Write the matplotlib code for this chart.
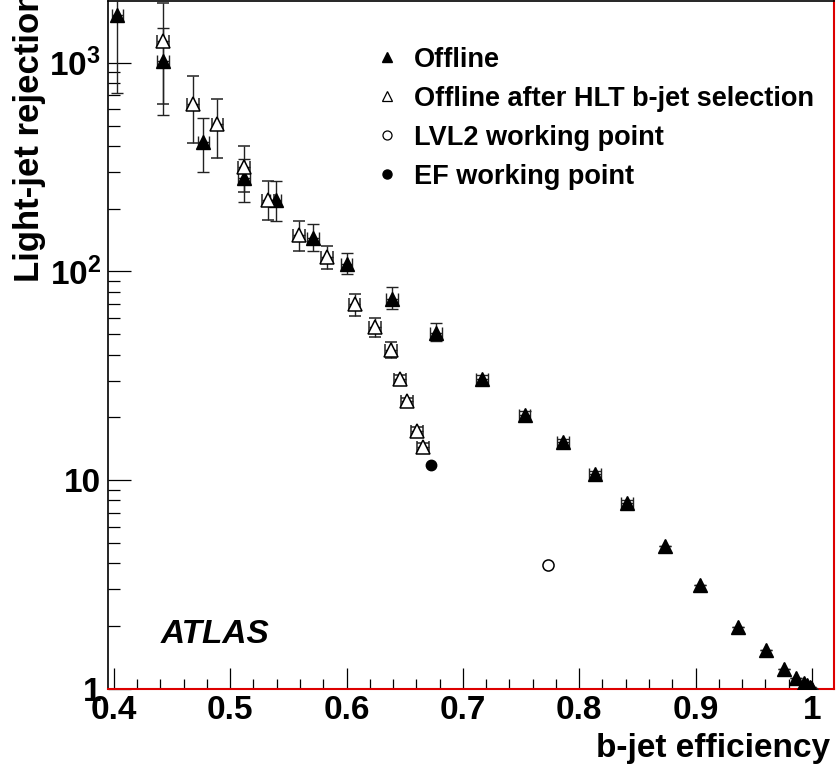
import matplotlib
matplotlib.use("Agg")
import matplotlib.pyplot as plt
from matplotlib.lines import Line2D
from matplotlib.ticker import FixedLocator, FixedFormatter, MultipleLocator, NullFormatter

plt.rcParams['font.family'] = ['Liberation Sans', 'DejaVu Sans']
plt.rcParams['font.weight'] = 'bold'
plt.rcParams['mathtext.fontset'] = 'custom'
plt.rcParams['mathtext.rm'] = 'Liberation Sans:bold'
plt.rcParams['mathtext.bf'] = 'Liberation Sans:bold'

# Offline (filled triangles)
offline_x = [0.403, 0.442, 0.477, 0.512, 0.539, 0.571, 0.600, 0.639, 0.677, 0.7165,
             0.753, 0.786, 0.8136, 0.841, 0.874, 0.904, 0.9365, 0.9606, 0.976, 0.9864,
             0.993, 0.996, 0.998, 0.999, 1.0]
offline_y = [1700, 1020, 419, 279, 221, 145, 109, 74, 51, 30.4,
             20.5, 15.2, 10.7, 7.76, 4.83, 3.15, 1.98, 1.54, 1.25, 1.13,
             1.07, 1.04, 1.02, 1.01, 1.0]
offline_ydn = [982, 456, 118, 63, 46, 20, 12, 8, 4.8, 1.5,
               1.0, 0.6, 0.4, 0.25, 0, 0, 0, 0, 0, 0,
               0, 0, 0, 0, 0]
offline_yup = [2300, 450, 126, 68, 49, 23, 14, 10, 5.4, 1.5,
               1.0, 0.6, 0.4, 0.25, 0, 0, 0, 0, 0, 0,
               0, 0, 0, 0, 0]
offline_xerr = [0.005] * 14 + [0] * 11

# Offline after HLT b-jet selection (open triangles)
hlt_x = [0.442, 0.468, 0.489, 0.512, 0.5325, 0.559, 0.583, 0.607, 0.6245, 0.638,
         0.646, 0.652, 0.6605, 0.6657]
hlt_y = [1274, 636, 511, 318, 221, 150, 117, 70, 54, 41.9,
         30.4, 23.9, 17.3, 14.5]
hlt_ydn = [637, 222, 160, 79, 44, 24, 14, 8.5, 5.7, 3.5, 1.5, 1.0, 0.7, 0.5]
hlt_yup = [666, 230, 162, 83, 49, 25, 15, 7.6, 5.6, 3.8, 1.5, 1.0, 0.7, 0.5]
hlt_xerr = [0.005] * 14

# working points
lvl2_x = [0.773]
lvl2_y = [3.92]
ef_x = [0.6726]
ef_y = [11.8]

legend_labels = ["Offline", "Offline after HLT b-jet selection",
                 "LVL2 working point", "EF working point"]

fig = plt.figure(figsize=(8.36, 7.73), dpi=100)
ax = fig.add_axes([0.1292, 0.1087, 0.8684, 0.8903])

ax.errorbar(offline_x, offline_y, yerr=[offline_ydn, offline_yup], xerr=offline_xerr,
            fmt='^', color='black', ecolor='#222222', elinewidth=1, capsize=4,
            capthick=1, markersize=9.5, zorder=3)
ax.errorbar(hlt_x, hlt_y, yerr=[hlt_ydn, hlt_yup], xerr=hlt_xerr,
            fmt='^', color='black', mfc='white', mec='black', mew=1.1,
            ecolor='#222222', elinewidth=1, capsize=4, capthick=1,
            markersize=9.5, zorder=3)
ax.plot(lvl2_x, lvl2_y, 'o', mfc='white', mec='black', mew=1.1, markersize=8, zorder=4)
ax.plot(ef_x, ef_y, 'o', color='black', markersize=7.5, zorder=4)

ax.set_yscale('log')
ax.set_xlim(0.395, 1.019)
ax.set_ylim(1, 1980)

# ticks, ROOT style
ax.xaxis.set_major_locator(FixedLocator([0.4, 0.5, 0.6, 0.7, 0.8, 0.9, 1.0]))
ax.xaxis.set_major_formatter(FixedFormatter(["0.4", "0.5", "0.6", "0.7", "0.8", "0.9", "1"]))
ax.xaxis.set_minor_locator(MultipleLocator(0.02))
ax.yaxis.set_major_locator(FixedLocator([1, 10, 100, 1000]))
ax.yaxis.set_major_formatter(FixedFormatter(["1", "10", r"$\mathbf{10^{2}}$", r"$\mathbf{10^{3}}$"]))
minors = [m * 10 ** d for d in range(0, 4) for m in range(2, 10)]
ax.yaxis.set_minor_locator(FixedLocator(minors))
ax.yaxis.set_minor_formatter(NullFormatter())

ax.tick_params(axis='x', which='major', direction='in', length=15, width=0.9,
               labelsize=24, pad=4, top=False)
ax.tick_params(axis='x', which='minor', direction='in', length=7.5, width=0.9, top=False)
ax.tick_params(axis='y', which='major', direction='in', length=16.5, width=0.9,
               labelsize=24, pad=5, right=False)
ax.tick_params(axis='y', which='minor', direction='in', length=8.5, width=0.9, right=False)

for side in ['left', 'top']:
    ax.spines[side].set_color('black')
    ax.spines[side].set_linewidth(1.2)
for side in ['right', 'bottom']:
    ax.spines[side].set_color('#dd0000')
    ax.spines[side].set_linewidth(1.5)

ax.set_xlabel("b-jet efficiency", fontsize=24, fontweight='bold', loc='right')
ax.xaxis.set_label_coords(0.995, -0.064)
ax.set_ylabel("Light-jet rejection", fontsize=25, fontweight='bold', loc='top')
ax.yaxis.set_label_coords(-0.085, 1.015)

ax.text(0.072, 0.079, "ATLAS", transform=ax.transAxes, fontsize=24,
        fontweight='bold', style='italic', va='center', ha='left')

handles = [
    Line2D([], [], marker='^', ls='none', color='black', markersize=6.5),
    Line2D([], [], marker='^', ls='none', mfc='white', mec='black', mew=0.9, markersize=6.5),
    Line2D([], [], marker='o', ls='none', mfc='white', mec='black', mew=0.9, markersize=6.5),
    Line2D([], [], marker='o', ls='none', color='black', markersize=6.5),
]
leg = ax.legend(handles, legend_labels, loc='upper left', bbox_to_anchor=(0.373, 0.933),
                frameon=False, fontsize=19.5, borderpad=0, borderaxespad=0,
                handlelength=0.6, handletextpad=0.7, labelspacing=0.48)
for t in leg.get_texts():
    t.set_fontweight('bold')

fig.savefig("out.png", dpi=100)
